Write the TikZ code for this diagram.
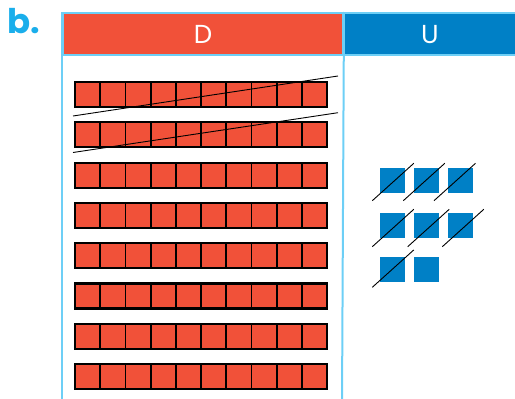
\documentclass[tikz,border=0pt]{standalone}
\usepackage{fontspec}
\setmainfont{Poppins}
\usetikzlibrary{positioning}
\definecolor{tensred}{HTML}{F15139}
\definecolor{unitblue}{HTML}{0080C6}
\definecolor{gridblue}{HTML}{6DCFF6}
\definecolor{labelblue}{HTML}{1AAEEB}
\tikzset{
  headbox/.style={draw=gridblue, line width=2pt, anchor=north west, minimum height=42pt, inner sep=0pt},
  headtext/.style={text=white, font=\fontsize{26}{26}\selectfont, inner sep=0pt},
  rule/.style={draw=gridblue, line width=2pt},
  tencell/.style={fill=tensred, draw=black, line width=1.8pt},
  tenrod/.style={draw=black, line width=2.2pt},
  onecube/.style={fill=unitblue},
  strike/.style={draw=black, line width=0.9pt}
}

\begin{document}
\begin{tikzpicture}[x=1pt, y=-1pt]
    \useasboundingbox (0,0) rectangle (515,399);
    % part label
    \node[text=labelblue, font=\bfseries\fontsize{34}{34}\selectfont, anchor=base west, inner sep=0pt] (part) at (7,33) {b.};
    % table head
    \node[headbox, fill=tensred, minimum width=280pt] (dhead) at (62,12) {};
    \node[headbox, fill=unitblue, minimum width=180pt] (uhead) at (342,12) {};
    \node[headtext] (dtxt) at ([yshift=-0.5pt]dhead.center) {D};
    \node[headtext] (utxt) at ([yshift=-0.5pt]dhead.center -| 430,0) {U};
    \draw[rule] (dhead.north west) -- (62,405);
    \draw[rule] (dhead.north east) -- (342,405);
    % tens rods
    \foreach \r in {0,...,7} {
      \foreach \c in {0,...,9}
        \draw[tencell] ({75+25.2*\c},{82+40.3*\r}) rectangle ++(25.2,25);
      \draw[tenrod] (75,{82+40.3*\r}) rectangle ++(252,25);
    }
    \draw[strike] (73,116) -- (338,76);
    \draw[strike] (73,152.5) -- (338,112.7);
    % units
    \foreach \x/\y in {380/168, 414/168, 448/168, 380/212.7, 414/212.7, 448/212.7, 380/257, 414/257}
      \fill[onecube] (\x,\y) rectangle ++(25,25);
    \foreach \x/\y in {372.3/200.7, 403.3/200.7, 434/200.7, 372.3/246.7, 407.7/246.7, 442.3/246.7, 372.3/287.3}
      \draw[strike] (\x,\y) -- ++(41.5,-37.4);
\end{tikzpicture}
\end{document}
